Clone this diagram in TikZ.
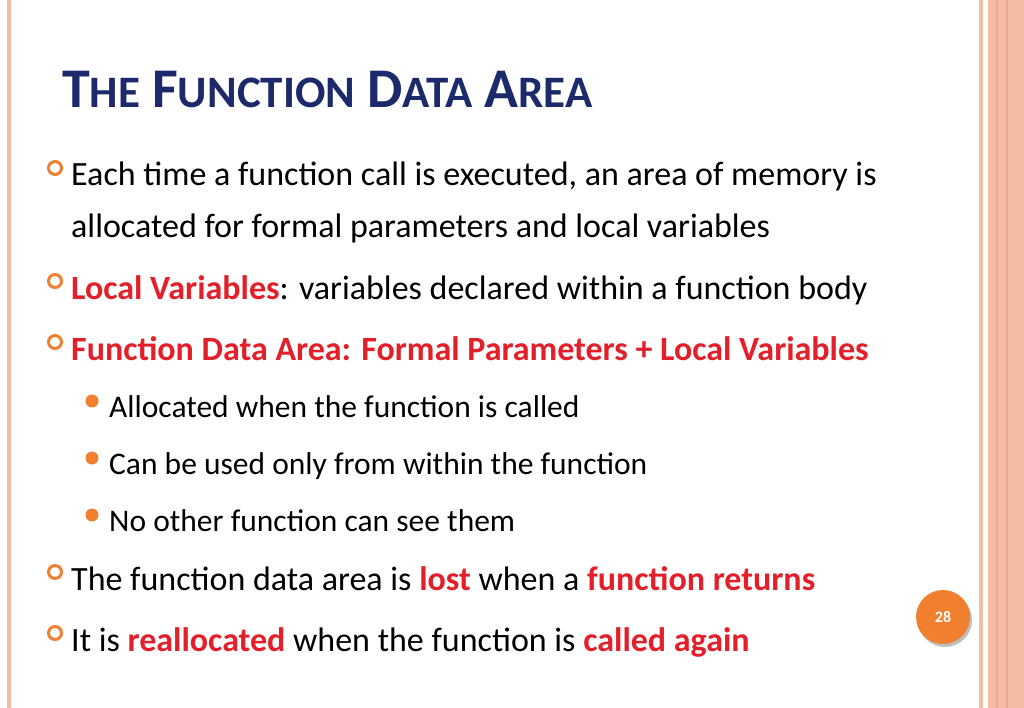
\documentclass[tikz,border=0pt]{standalone}
\usepackage{fontspec}
\setmainfont{Carlito}
\definecolor{salmon}{HTML}{F4BBA5}
\definecolor{salmond}{HTML}{EFA88E}
\definecolor{navy}{HTML}{1C2A6B}
\definecolor{hot}{HTML}{E3202A}
\definecolor{orng}{HTML}{F0802F}
\newcommand{\R}[1]{\textbf{\color{hot}#1}}
\newcommand{\SC}[2]{{\fontsize{56}{60}\selectfont #1}{\fontsize{45}{50}\selectfont #2}}
\begin{document}
\begin{tikzpicture}[x=1pt,y=-1pt,
  main/.style={anchor=base west,inner sep=0pt,font=\fontsize{34}{40}\selectfont},
  sub/.style={anchor=base west,inner sep=0pt,font=\fontsize{31.5}{36}\selectfont},
  ring/.style={draw=orng,line width=3pt,circle,minimum size=13pt,inner sep=0pt},
  dot/.style={fill=orng,circle,minimum size=13pt,inner sep=0pt}]
\useasboundingbox (0,0) rectangle (1024,708);
\fill[white] (0,0) rectangle (1024,708);
\fill[salmon] (7,0) rectangle (11,708);
\fill[salmon] (979,0) rectangle (983,708);
\fill[salmon] (988,0) rectangle (1024,708);
\fill[salmond] (996,0) rectangle (998,708);
\fill[salmond] (1006,0) rectangle (1008,708);
\node[anchor=base west,inner sep=0pt,text=navy,font=\bfseries] (title) at (62,108)
  {\SC{T}{HE}\hspace{12pt}\SC{F}{UNCTION}\hspace{12pt}\SC{D}{ATA}\hspace{12pt}\SC{A}{REA}};
\node[main] (l1) at (71,186) {Each time a function call is executed, an area of memory is};
\node[main] (l2) at (71,238) {allocated for formal parameters and local variables};
\node[main] (l3) at (71,299) {\R{Local Variables}: variables declared within a function body};
\node[main] (l4) at (71,360) {\R{Function Data Area: Formal Parameters + Local Variables}};
\node[sub] (s1) at (109,417) {Allocated when the function is called};
\node[sub] (s2) at (109,474) {Can be used only from within the function};
\node[sub] (s3) at (109,531) {No other function can see them};
\node[main] (l5) at (71,590) {The function data area is \R{lost} when a \R{function returns}};
\node[main] (l6) at (71,651) {It is \R{reallocated} when the function is \R{called again}};
\foreach \y/\n in {168/b1,281/b3,342/b4,572/b5,633/b6} \node[ring] (\n) at (55,\y) {};
\foreach \y/\n in {401/d1,458/d2,515/d3} \node[dot] (\n) at (92,\y) {};
\fill[black!25] (945,620) circle (27);
\node[circle,fill=orng,minimum size=54pt,inner sep=0pt,text=white,font=\bfseries\fontsize{16}{18}\selectfont] (pg) at (943,617) {28};
\end{tikzpicture}
\end{document}
